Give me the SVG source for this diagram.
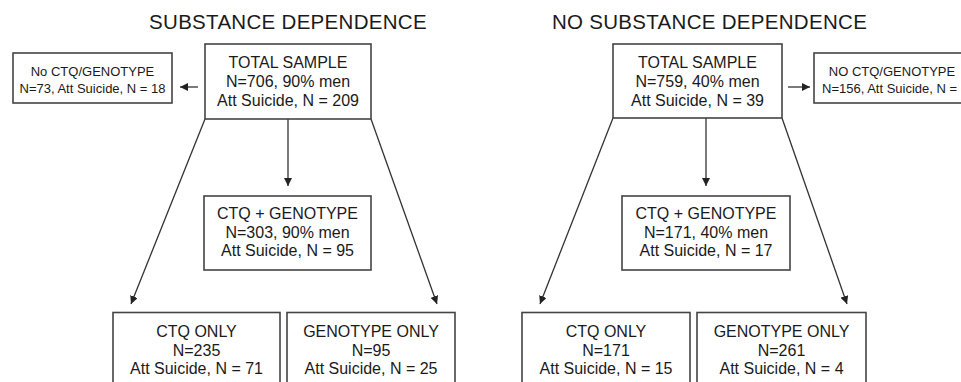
<svg xmlns="http://www.w3.org/2000/svg" width="961" height="382" viewBox="0 0 961 382">
  <defs>
    <style>
      .box { fill: #ffffff; stroke: #444444; stroke-width: 1.6; }
      .t { font-family: "Liberation Sans", Arial, sans-serif; font-size: 16px; fill: #1a1a1a; text-anchor: middle; }
      .s { font-family: "Liberation Sans", Arial, sans-serif; font-size: 13px; fill: #1a1a1a; text-anchor: middle; }
      .title { font-family: "Liberation Sans", Arial, sans-serif; font-size: 20.5px; fill: #1a1a1a; text-anchor: middle; letter-spacing: 0.3px; }
      .conn { stroke: #333333; stroke-width: 1.3; fill: none; marker-end: url(#arrow); }
    </style>
    <marker id="arrow" viewBox="0 0 10 10" refX="10" refY="5" markerWidth="8" markerHeight="8" markerUnits="userSpaceOnUse" orient="auto">
      <path d="M0,0 L10,5 L0,10 z" fill="#222222"/>
    </marker>
  </defs>
  <rect width="961" height="382" fill="#ffffff"/>

  <text class="title" x="288" y="28.5">SUBSTANCE DEPENDENCE</text>
  <text class="title" x="709.5" y="28.5">NO SUBSTANCE DEPENDENCE</text>

  <g id="connectors">
    <line class="conn" x1="198" y1="87" x2="180" y2="87"/>
    <line class="conn" x1="288" y1="119" x2="288" y2="186"/>
    <line class="conn" x1="205" y1="119" x2="131" y2="304"/>
    <line class="conn" x1="371" y1="119" x2="437" y2="304"/>
    <line class="conn" x1="788" y1="87" x2="810" y2="87"/>
    <line class="conn" x1="706" y1="118" x2="706" y2="186"/>
    <line class="conn" x1="613" y1="118" x2="540" y2="304"/>
    <line class="conn" x1="782" y1="118" x2="847" y2="304"/>
  </g>

  <g id="sd-no-ctq">
    <rect class="box" x="13" y="53" width="159" height="50"/>
    <text class="s" x="92.5" y="76">No CTQ/GENOTYPE</text>
    <text class="s" x="92.5" y="93">N=73, Att Suicide, N = 18</text>
  </g>
  <g id="sd-total">
    <rect class="box" x="205" y="44" width="166" height="75"/>
    <text class="t" x="288" y="67.5">TOTAL SAMPLE</text>
    <text class="t" x="288" y="87">N=706, 90% men</text>
    <text class="t" x="288" y="106">Att Suicide, N = 209</text>
  </g>
  <g id="sd-ctq-genotype">
    <rect class="box" x="204" y="196" width="167" height="74"/>
    <text class="t" x="287.5" y="218.5">CTQ + GENOTYPE</text>
    <text class="t" x="287.5" y="237.5">N=303, 90% men</text>
    <text class="t" x="287.5" y="256">Att Suicide, N = 95</text>
  </g>
  <g id="sd-ctq-only">
    <rect class="box" x="113" y="312.5" width="167" height="80"/>
    <text class="t" x="196.5" y="337">CTQ ONLY</text>
    <text class="t" x="196.5" y="355.5">N=235</text>
    <text class="t" x="196.5" y="374">Att Suicide, N = 71</text>
  </g>
  <g id="sd-genotype-only">
    <rect class="box" x="287" y="312.5" width="168" height="80"/>
    <text class="t" x="371" y="337">GENOTYPE ONLY</text>
    <text class="t" x="371" y="355.5">N=95</text>
    <text class="t" x="371" y="374">Att Suicide, N = 25</text>
  </g>

  <g id="nsd-total">
    <rect class="box" x="613" y="44" width="169" height="74"/>
    <text class="t" x="697.5" y="67.5">TOTAL SAMPLE</text>
    <text class="t" x="697.5" y="87">N=759, 40% men</text>
    <text class="t" x="697.5" y="106">Att Suicide, N = 39</text>
  </g>
  <g id="nsd-no-ctq">
    <rect class="box" x="814" y="53" width="160" height="50"/>
    <text class="s" x="892" y="76">NO CTQ/GENOTYPE</text>
    <text class="s" x="895" y="93">N=156, Att Suicide, N = 3</text>
  </g>
  <g id="nsd-ctq-genotype">
    <rect class="box" x="622" y="196" width="168" height="74"/>
    <text class="t" x="706" y="218.5">CTQ + GENOTYPE</text>
    <text class="t" x="706" y="237.5">N=171, 40% men</text>
    <text class="t" x="706" y="256">Att Suicide, N = 17</text>
  </g>
  <g id="nsd-ctq-only">
    <rect class="box" x="522" y="312.5" width="168" height="80"/>
    <text class="t" x="606" y="337">CTQ ONLY</text>
    <text class="t" x="606" y="355.5">N=171</text>
    <text class="t" x="606" y="374">Att Suicide, N = 15</text>
  </g>
  <g id="nsd-genotype-only">
    <rect class="box" x="697" y="312.5" width="169" height="80"/>
    <text class="t" x="781.5" y="337">GENOTYPE ONLY</text>
    <text class="t" x="781.5" y="355.5">N=261</text>
    <text class="t" x="781.5" y="374">Att Suicide, N = 4</text>
  </g>
</svg>
